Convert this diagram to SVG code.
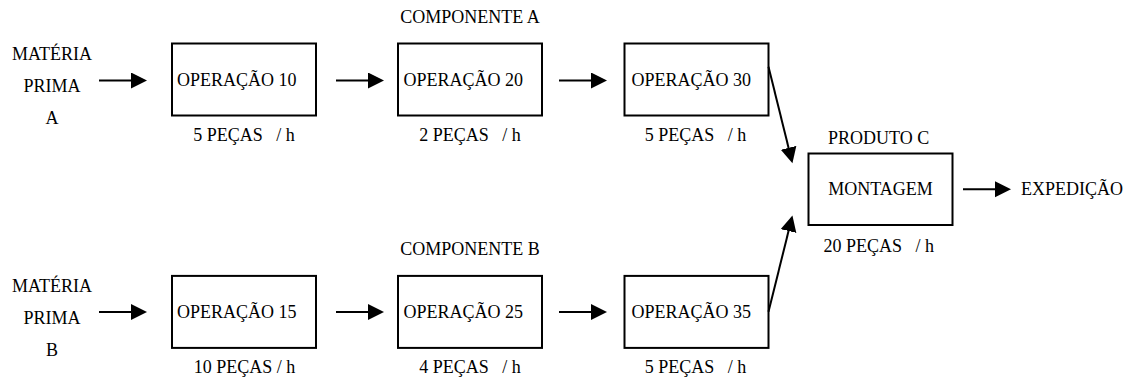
<svg xmlns="http://www.w3.org/2000/svg" width="1129" height="380" viewBox="0 0 1129 380">
<style>
  text { font-family: 'Liberation Serif', 'DejaVu Serif', 'Times New Roman', Times, serif; font-size: 18px; fill: #000; white-space: pre; }
  .mid { text-anchor: middle; }
  .box { fill: #fff; stroke: #000; stroke-width: 2; }
  .conn { stroke: #000; stroke-width: 2; fill: none; marker-end: url(#arrow); }
</style>
<defs>
  <marker id="arrow" markerUnits="userSpaceOnUse" markerWidth="18" markerHeight="18" refX="3" refY="8" orient="auto">
    <path d="M0,0 L16,8 L0,16 Z" fill="#000"/>
  </marker>
</defs>
<rect width="1129" height="380" fill="#fff"/>
<g font-family="Liberation Serif, DejaVu Serif, serif">
<g id="mp-a">
  <text class="mid" x="52" y="60">MATÉRIA</text>
  <text class="mid" x="52" y="92">PRIMA</text>
  <text class="mid" x="52" y="123.5">A</text>
</g>
<g id="op10">
  <rect class="box" x="172" y="43.5" width="144" height="72"/>
  <text x="177" y="85.5">OPERAÇÃO 10</text>
  <text class="mid" x="244" y="141" xml:space="preserve">5 PEÇAS   / h</text>
</g>
<g id="op20">
  <text class="mid" x="470" y="23">COMPONENTE A</text>
  <rect class="box" x="398" y="43.5" width="144" height="72"/>
  <text x="403.5" y="85.5">OPERAÇÃO 20</text>
  <text class="mid" x="470" y="141" xml:space="preserve">2 PEÇAS   / h</text>
</g>
<g id="op30">
  <rect class="box" x="624.5" y="43.5" width="144" height="72"/>
  <text x="631.5" y="85.5">OPERAÇÃO 30</text>
  <text class="mid" x="695.5" y="141" xml:space="preserve">5 PEÇAS   / h</text>
</g>
<g id="mp-b">
  <text class="mid" x="52" y="292.4">MATÉRIA</text>
  <text class="mid" x="52" y="324.4">PRIMA</text>
  <text class="mid" x="52" y="355.9">B</text>
</g>
<g id="op15">
  <rect class="box" x="172" y="275.9" width="144" height="72"/>
  <text x="177" y="317.9">OPERAÇÃO 15</text>
  <text class="mid" x="244.4" y="373.4" xml:space="preserve">10 PEÇAS / h</text>
</g>
<g id="op25">
  <text class="mid" x="470" y="255.4">COMPONENTE B</text>
  <rect class="box" x="398" y="275.9" width="144" height="72"/>
  <text x="403.5" y="317.9">OPERAÇÃO 25</text>
  <text class="mid" x="470" y="373.4" xml:space="preserve">4 PEÇAS   / h</text>
</g>
<g id="op35">
  <rect class="box" x="624.5" y="275.9" width="144" height="72"/>
  <text x="631.5" y="317.9">OPERAÇÃO 35</text>
  <text class="mid" x="695.5" y="373.4" xml:space="preserve">5 PEÇAS   / h</text>
</g>
<g id="montagem">
  <text class="mid" x="878.7" y="144">PRODUTO C</text>
  <rect class="box" x="808.5" y="153.5" width="144" height="71.5"/>
  <text class="mid" x="880.5" y="194.5">MONTAGEM</text>
  <text class="mid" x="878.7" y="252" xml:space="preserve">20 PEÇAS   / h</text>
</g>
<g id="expedicao">
  <text x="1021" y="194.5">EXPEDIÇÃO</text>
</g>
</g>
<g id="connectors">
  <line class="conn" x1="99" y1="80.5" x2="134" y2="80.5"/>
  <line class="conn" x1="336" y1="80.5" x2="371" y2="80.5"/>
  <line class="conn" x1="559" y1="80.5" x2="594" y2="80.5"/>
  <line class="conn" x1="99" y1="312" x2="134" y2="312"/>
  <line class="conn" x1="336" y1="312" x2="371" y2="312"/>
  <line class="conn" x1="559" y1="312" x2="594" y2="312"/>
  <line class="conn" x1="768.5" y1="66.7" x2="789.3" y2="150.7"/>
  <line class="conn" x1="768.5" y1="311.7" x2="789.3" y2="228.1"/>
  <line class="conn" x1="963" y1="189.2" x2="998" y2="189.2"/>
</g>
</svg>
